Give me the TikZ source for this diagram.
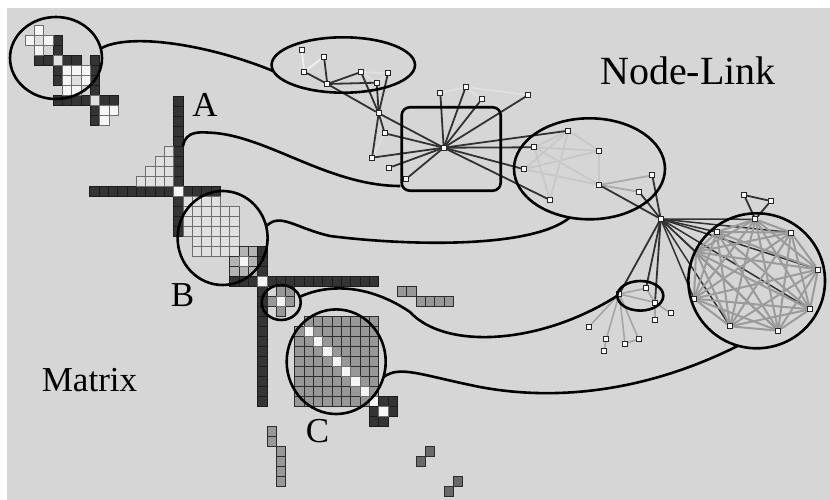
\documentclass[tikz,border=0pt]{standalone}
\usepackage{fontspec}
\setmainfont{Liberation Serif}
\usetikzlibrary{shapes.geometric}
\pgfdeclarelayer{bglayer}
\pgfdeclarelayer{edgelayer}
\pgfsetlayers{bglayer,edgelayer,main}
\definecolor{bgc}{RGB}{214,214,214}
\definecolor{cdark}{RGB}{52,52,52}
\definecolor{cdarkl}{RGB}{28,28,28}
\definecolor{clight}{RGB}{224,224,224}
\definecolor{clightl}{RGB}{110,110,110}
\definecolor{cwhite}{RGB}{246,246,246}
\definecolor{cmed}{RGB}{152,152,152}
\definecolor{cmedl}{RGB}{45,45,45}
\definecolor{cmid}{RGB}{180,180,180}
\definecolor{cdm}{RGB}{105,105,105}
\definecolor{edark}{RGB}{50,50,50}
\definecolor{elt}{RGB}{240,240,240}
\definecolor{elt2}{RGB}{224,224,224}
\definecolor{egr}{RGB}{200,200,200}
\definecolor{egm}{RGB}{170,170,170}
\definecolor{ecq}{RGB}{155,155,155}
\definecolor{esm}{RGB}{165,165,165}
\newcommand\mcell[3]{\filldraw[#3] ({173.5+9.33*(#1)},{186.5+10*(#2)}) rectangle ++(9.33,10);}
\newcommand\tcell[3]{\filldraw[#3] ({25+9.33*(#1)},{25+10*(#2)}) rectangle ++(9.33,10);}
\begin{document}
\begin{tikzpicture}[x=1pt,y=-1pt,
  dkc/.style={fill=cdark,draw=cdarkl,line width=0.6pt},
  ltc/.style={fill=clight,draw=clightl,line width=0.6pt},
  whc/.style={fill=cwhite,draw=clightl,line width=0.6pt},
  mdc/.style={fill=cmed,draw=cmedl,line width=0.6pt},
  mic/.style={fill=cmid,draw=cmedl,line width=0.6pt},
  dmc/.style={fill=cdm,draw=cmedl,line width=0.6pt},
  ring/.style={ellipse,draw=black,line width=2.6pt,inner sep=0pt,outer sep=0pt},
  curve/.style={draw=black,line width=2.6pt},
  nd/.style={rectangle,draw=black!85,fill=white,minimum size=5pt,inner sep=0pt,line width=0.7pt},
  ed/.style={draw=edark,line width=1.8pt},
  ew/.style={draw=elt,line width=1.8pt},
  el/.style={draw=elt2,line width=1.8pt},
  eg/.style={draw=egr,line width=1.8pt},
  egm/.style={draw=egm,line width=1.8pt},
  cq/.style={draw=ecq,line width=2pt},
  es/.style={draw=esm,line width=1.6pt},
  lbl/.style={font=\fontsize{35}{40}\selectfont,inner sep=0pt}]
\useasboundingbox (0,0) rectangle (830,500);
\begin{pgfonlayer}{bglayer}
\fill[white] (0,0) rectangle (830,500);
\fill[bgc] (7,8) rectangle (830,500);
% top-left matrix
\foreach \c/\r in {1/3,2/3,4/3,5/3,7/3,3/1,3/2,3/4,3/5,3/7,4/7,5/7,6/7,8/7,9/7,7/4,7/5,7/6,7/8,7/9} {\tcell{\c}{\r}{dkc}}
\foreach \c/\r in {3/3,7/7,1/1,5/5} {\tcell{\c}{\r}{ltc}}
\foreach \c/\r in {1/0,0/1,2/1,1/2,4/4,5/4,6/4,4/5,6/5,4/6,5/6,8/8,9/8,8/9} {\tcell{\c}{\r}{whc}}
% main matrix: hub A
\foreach \c in {-9,...,-1,1,2,3,4} {\mcell{\c}{0}{dkc}}
\foreach \r in {-9,...,-1,1,2,3,4} {\mcell{0}{\r}{dkc}}
\mcell{0}{0}{whc}
\foreach \c/\r in {-1/-4,-2/-3,-1/-3,-3/-2,-2/-2,-1/-2,-4/-1,-3/-1,-2/-1,-1/-1} {\mcell{\c}{\r}{ltc}}
% block B
\foreach \c in {1,...,4} {\mcell{\c}{1}{ltc}}
\foreach \r in {2,3,4} {\foreach \c in {1,...,6} {\mcell{\c}{\r}{ltc}}}
\foreach \r in {5,6} {\foreach \c in {2,...,6} {\mcell{\c}{\r}{ltc}}}
\foreach \c/\r in {7/6,8/6,6/7,8/7,6/8,7/8,8/8} {\mcell{\c}{\r}{mic}}
\mcell{7}{7}{whc}
% hub B
\foreach \c in {6,7,8,10,11,...,21} {\mcell{\c}{9}{dkc}}
\foreach \r in {6,7,8,10,11,...,21} {\mcell{9}{\r}{dkc}}
\mcell{9}{9}{whc}
% tiny cluster
\foreach \c/\r in {11/10,12/10,10/11,12/11,11/12} {\mcell{\c}{\r}{mdc}}
\mcell{11}{11}{whc}
% big block C
\foreach \r in {13,...,21} {\foreach \c in {13,...,21} {\ifnum\c=\r\else\mcell{\c}{\r}{mdc}\fi}}
\foreach \r in {14,...,21} {\mcell{\r}{\r}{whc}}
% dark small cluster
\foreach \c/\r in {22/21,23/21,21/22,23/22,21/23,22/23} {\mcell{\c}{\r}{dkc}}
\mcell{22}{22}{whc}
% off-diagonal
\foreach \c/\r in {24/10,25/10,26/11,27/11,28/11,29/11,10/24,10/25,11/26,11/27,11/28,11/29} {\mcell{\c}{\r}{mdc}}
\foreach \c/\r in {27/26,26/27,30/29,29/30} {\mcell{\c}{\r}{dmc}}
\end{pgfonlayer}
% node-link nodes
\node[nd] (p1) at (301.7,50) {};
\node[nd] (p2) at (324,56.7) {};
\node[nd] (p3) at (304.3,71.7) {};
\node[nd] (p4) at (327.3,84) {};
\node[nd] (p5) at (361,72) {};
\node[nd] (p6) at (388,73.3) {};
\node[nd] (p7) at (376.7,82.7) {};
\node[nd] (p8) at (378.7,113.3) {};
\node[nd] (p9) at (384.7,133.3) {};
\node[nd] (p10) at (372,157.7) {};
\node[nd] (p11) at (389.3,167.7) {};
\node[nd] (p12) at (405.7,179.3) {};
\node[nd] (h1) at (443.7,147.7) {};
\node[nd] (p13) at (440.3,92.7) {};
\node[nd] (p14) at (465.7,87) {};
\node[nd] (p15) at (481.7,99.3) {};
\node[nd] (p16) at (528.3,95) {};
\node[nd] (m1) at (568.3,130.7) {};
\node[nd] (m2) at (599.3,150.7) {};
\node[nd] (m3) at (534.3,147.3) {};
\node[nd] (m4) at (524.3,169.3) {};
\node[nd] (m5) at (550,200) {};
\node[nd] (m6) at (599.3,185) {};
\node[nd] (m7) at (652.3,175.3) {};
\node[nd] (m8) at (639,191.7) {};
\node[nd] (h2) at (660.7,219) {};
\node[nd] (c1) at (755.3,219.3) {};
\node[nd] (c2) at (716.7,232) {};
\node[nd] (c3) at (791,232.5) {};
\node[nd] (c4) at (818,269.5) {};
\node[nd] (c6) at (810,309.3) {};
\node[nd] (c8) at (778.2,330.7) {};
\node[nd] (c7) at (730,326.3) {};
\node[nd] (c5) at (694,298.7) {};
\coordinate (c9) at (696,252);
\node[nd] (t1) at (744,195) {};
\node[nd] (t2) at (770.7,201) {};
\node[nd] (s0) at (619.3,294) {};
\node[nd] (s1) at (646,288.3) {};
\node[nd] (s2) at (655,302.5) {};
\node[nd] (s3) at (670.7,313.3) {};
\node[nd] (s4) at (655,320.2) {};
\node[nd] (s5) at (589,326.7) {};
\node[nd] (s6) at (606.2,339.2) {};
\node[nd] (s7) at (604,351.3) {};
\node[nd] (s8) at (625,343.8) {};
\node[nd] (s9) at (638.5,338.8) {};
\begin{pgfonlayer}{edgelayer}
\foreach \a/\b in {p1/p3,p3/p2} {\draw[ew] (\a) -- (\b);}
\foreach \a/\b in {p5/p6,p5/p7,p6/p7,p13/p14,p14/p16,p14/p15,p10/p9} {\draw[el] (\a) -- (\b);}
\foreach \a/\b in {m1/m3,m1/m4,m1/m5,m1/m2,m2/m3,m2/m6,m3/m6,m4/m6,m3/m5,m4/m2} {\draw[eg] (\a) -- (\b);}
\foreach \a/\b in {m6/m7,m6/m8} {\draw[egm] (\a) -- (\b);}
\foreach \a/\b in {s0/s1,s0/s2,s0/s5,s0/s6,s0/s8,s0/s9,s6/s7,s8/s9,s2/s3,s2/s4,s1/s2} {\draw[es] (\a) -- (\b);}
\foreach \a/\b in {p2/p4,p3/p4,p4/p5,p4/p7,p4/p8,p5/p8,p6/p8,p7/p8,p8/p9,p8/p10,p8/h1,p9/h1,p10/h1,p11/h1,p12/h1,p13/h1,p14/h1,p15/h1,p16/h1,h1/m1,h1/m3,h1/m4,h1/m5,m6/h2,m7/h2,m8/h2,h2/s0,h2/s1,h2/s2,t1/t2,t1/c1,t2/c1} {\draw[ed] (\a) -- (\b);}
\foreach \b in {c1,c2,c3,c4,c5,c6,c7,c8,c9} {\draw[ed,line width=1.5pt] (h2) -- (\b);}
\foreach [count=\i] \a in {c1,c2,c3,c4,c5,c6,c7,c8,c9} {
  \foreach [count=\j] \b in {c1,c2,c3,c4,c5,c6,c7,c8,c9} {
    \ifnum\j>\i \draw[cq] (\a) -- (\b);\fi}}
\end{pgfonlayer}
% rings
\node[ring,minimum width=92pt,minimum height=82pt] (e1) at (56,58) {};
\node[ring,minimum width=143.4pt,minimum height=55.4pt] (e2) at (343.3,65) {};
\node[draw=black,line width=2.6pt,rounded corners=8pt,minimum width=99pt,minimum height=83.4pt,inner sep=0pt] (rect) at (451.2,149) {};
\node[ring,minimum width=151pt,minimum height=101pt] (e3) at (589.5,168.8) {};
\node[ring,minimum width=136.6pt,minimum height=135pt] (bigc) at (756.7,280.8) {};
\node[ring,minimum width=46pt,minimum height=29.6pt] (sell) at (640.3,295.8) {};
\node[ring,minimum width=90pt,minimum height=94pt] (cB) at (222.6,238) {};
\node[ring,minimum width=39pt,minimum height=35pt] (cs) at (281.2,302.5) {};
\node[ring,minimum width=99pt,minimum height=104.6pt] (cC) at (336.2,361.7) {};
\coordinate (ca) at (183,146);
% curves
\draw[curve] (e1.12) .. controls (130,32) and (210,45) .. (e2.185);
\draw[curve] (ca) .. controls (186,130) and (200,132) .. (215,133) .. controls (270,138) and (330,186) .. ([yshift=6pt]rect.south west);
\draw[curve] (cB.15) .. controls (280,212) and (295,228) .. (330,236) .. controls (400,245) and (530,250) .. (e3.248);
\draw[curve] (cs.17) .. controls (330,283) and (370,285) .. (410,312) .. controls (445,350) and (540,345) .. (sell.west);
\draw[curve] (cC.-18) .. controls (400,365) and (420,375) .. (480,387) .. controls (560,402) and (650,390) .. (bigc.254);
% labels
\node[lbl] (la) at (205,104.5) {A};
\node[lbl] (lb) at (182.5,295) {B};
\node[lbl] (lc) at (317.5,431.5) {C};
\node[lbl,font=\fontsize{40}{46}\selectfont] (lnl) at (688,71) {Node-Link};
\node[lbl] (lm) at (89.5,380) {Matrix};
\end{tikzpicture}
\end{document}
